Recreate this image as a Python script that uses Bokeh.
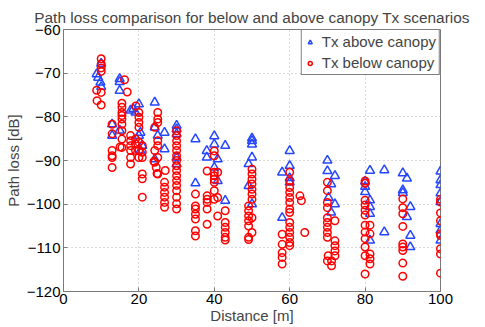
from bokeh.plotting import figure
from bokeh.models import Legend, LegendItem, FixedTicker, ColumnDataSource, Range1d
from bokeh.embed import file_html
from bokeh.resources import INLINE

# ---- data ----
dist_above = [8.8, 9.2, 9.8, 10, 10,
              14.9, 14.9, 14.9, 12.9, 12.9, 14.9,
              17.8, 18.5, 19.1, 20, 20.4, 20.9, 20.4, 20,
              24.2, 24.2, 25, 24.2, 26.8, 26.8,
              30, 30, 30, 30, 30,
              35, 35,
              38, 38, 40, 40, 40, 40.9, 40.9, 42.9, 42.9,
              50, 50, 50, 50, 49.1, 49.1, 50,
              60, 60, 58, 60, 58, 60,
              70, 70, 72, 71, 70.3, 72, 71,
              81.3, 80, 80, 80, 81.3, 81.3, 81.3, 81.3,
              85.1, 85.1,
              90, 91.1, 90, 90, 91.1, 92, 92, 92,
              100, 100, 100, 100, 100, 100, 100, 100]
pl_above = [-70.2, -71.0, -72.1, -73.1, -67.8,
            -71.3, -72.0, -74.0, -81.7, -84.3, -83.1,
            -78.5, -78.2, -79.0, -77.1, -83.6, -86.6, -87.7, -84.3,
            -76.7, -82.4, -84.3, -89.7, -83.6, -87.4,
            -82.0, -82.8, -83.9, -89.3, -90.8,
            -85.1, -95.2,
            -87.8, -89.3, -84.4, -86.3, -91.6, -89.7, -94.7, -86.6, -99.2,
            -84.9, -85.5, -86.3, -89.3, -90.8, -95.8, -100.0,
            -87.8, -91.2, -92.7, -95.0, -103.1, -94.0,
            -90.0, -92.4, -93.5, -95.4, -98.5, -100.0, -101.9,
            -92.3, -94.8, -96.0, -97.2, -99.1, -100.6, -102.2, -108.3,
            -92.2, -106.4,
            -92.9, -94.1, -96.8, -97.4, -102.9, -100.6, -107.2, -109.8,
            -92.5, -94.5, -95.6, -97.5, -99.5, -104.5, -106.0, -108.3]

dist_below = [10, 10, 10, 10, 8.8, 10, 8.9, 10,
              12.9, 12.9, 12.9, 12.9, 12.9, 12.9,
              16.2, 16.9, 15.5, 15.5, 15.5, 15.5, 15.5, 15.5, 15.5, 15.5, 15.5, 15.0,
              19.2, 20, 20, 20, 20, 17.8, 17.8, 17.8, 17.8, 17.8, 17.8,
              19.1, 19.1, 19.1, 20, 20, 20, 20.9, 20.9, 20.9, 20.9, 20.9, 20.9,
              25, 25, 25, 24.2, 25, 25, 24.2, 25, 24.2, 24.6, 25, 24.0, 24.8,
              26.8, 26.8, 26.8, 26.8, 26.8, 26.8, 27.0,
              30, 30, 30, 30, 30, 30, 30, 30, 30, 30, 30, 30, 30, 30, 30, 30,
              35, 35, 35, 35, 35, 35, 35,
              38.1, 38.1, 38.1, 38.1, 38.1, 38.1,
              40, 40, 40, 40, 40, 40, 40, 40, 40.9, 40.9, 40.9,
              42.9, 42.9, 42.9, 42.9, 42.9, 42.9,
              50, 50, 50, 50, 50, 50, 50, 49.1, 49.1, 49.1, 49.1, 50, 49.1, 50, 49.1, 49.1,
              60, 60, 60, 60, 60, 60, 60, 60, 60, 60, 60, 60, 60, 60,
              58, 58, 58, 58, 58, 62.7, 63.1, 64,
              70, 70, 70, 70, 70, 70, 70, 70, 70, 72, 72, 72, 72, 72, 71.1, 70.2, 70, 71.1,
              80, 80, 80, 80, 80, 80, 80, 80, 80, 80, 80, 81.3, 81.3, 81.3, 81.3, 81.3, 80,
              90, 90, 90, 90, 90, 90, 90, 90, 90,
              100, 100, 100, 100, 100, 100, 100, 100, 100]
pl_below = [-66.7, -67.9, -68.8, -69.6, -73.9, -74.4, -76.3, -77.3,
            -81.7, -83.9, -87.7, -88.9, -89.3, -91.6,
            -71.5, -74.3, -76.9, -77.8, -79.0, -79.7, -80.5, -81.7, -83.2, -85.1, -87.0, -86.9,
            -77.5, -79.0, -80.1, -81.3, -82.4, -84.3, -85.5, -86.6, -87.7, -89.3, -90.8,
            -85.1, -86.2, -87.7, -85.8, -87.7, -89.3, -86.6, -88.1, -89.3, -93.1, -94.2, -98.4,
            -79.0, -80.5, -81.3, -82.4, -85.5, -86.6, -87.7, -89.3, -90.4, -91.6, -93.1, -90.2, -93.0,
            -95.0, -96.1, -97.3, -98.4, -99.6, -100.7, -92.3,
            -83.2, -84.3, -85.5, -86.6, -87.7, -88.9, -90.0, -91.2, -92.3, -93.5, -94.6, -95.7,
            -96.9, -98.4, -99.9, -101.1,
            -97.7, -100.4, -101.1, -102.3, -103.4, -106.1, -107.3,
            -92.4, -98.1, -98.9, -99.6, -101.1, -104.6,
            -87.8, -88.9, -92.7, -93.5, -94.3, -95.0, -96.9, -98.9, -92.7, -98.5, -102.7,
            -101.5, -104.2, -105.3, -106.5, -107.6, -108.2,
            -92.0, -93.1, -94.3, -95.4, -96.6, -97.7, -98.9, -100.4, -101.5, -102.7, -103.8,
            -103.1, -105.0, -106.5, -107.6, -108.1,
            -92.7, -94.7, -96.2, -97.3, -98.5, -99.6, -101.1, -101.9, -104.2, -105.3, -106.5,
            -107.6, -108.8, -109.5,
            -106.9, -109.2, -111.1, -112.2, -113.7, -98.1, -99.2, -106.5,
            -95.0, -96.9, -99.6, -100.8, -103.1, -104.2, -105.3, -106.5, -107.6, -103.8, -108.4,
            -109.5, -110.7, -111.8, -113.0, -111.8, -113.0, -114.1,
            -94.7, -95.2, -99.1, -100.2, -101.4, -102.5, -104.8, -106.4, -107.9, -109.8, -111.8,
            -104.8, -106.8, -111.4, -112.5, -113.7, -116.0,
            -98.8, -100.8, -102.2, -105.1, -109.1, -109.8, -110.6, -113.5, -116.5,
            -98.9, -99.5, -102.0, -103.8, -106.8, -107.2, -110.2, -111.4, -115.8]

x_ticks = [0, 20, 40, 60, 80, 100]
y_ticks = [-120, -110, -100, -90, -80, -70, -60]
y_tick_labels = {t: "\u2212" + str(abs(t)) for t in y_ticks}
title_text = "Path loss comparison for below and above canopy Tx scenarios"
x_label = "Distance [m]"
y_label = "Path loss [dB]"
legend_labels = ["Tx above canopy", "Tx below canopy"]

FONT = "Liberation Sans"
AXC = "#7a7a7a"
BLUE = "#2446ff"
RED = "#ff0000"

p = figure(width=485, height=327, output_backend="svg", toolbar_location=None,
           x_range=Range1d(0, 100), y_range=Range1d(-120, -60),
           min_border_left=63, min_border_right=45, min_border_top=29, min_border_bottom=36)

p.title.text = title_text
p.title.align = "center"
p.title.vertical_align = "top"
p.title.text_font = FONT
p.title.text_font_size = "15.4px"
p.title.text_font_style = "normal"
p.title.standoff = 4
p.title.offset = 0

src_a = ColumnDataSource(dict(x=dist_above, y=pl_above))
src_b = ColumnDataSource(dict(x=dist_below, y=pl_below))
ra = p.scatter("x", "y", source=src_a, marker="triangle", size=9, fill_color=None,
               line_color=BLUE, line_width=1.5)
rb = p.scatter("x", "y", source=src_b, marker="circle", size=7.5, fill_color=None,
               line_color=RED, line_width=1.5)

for ax in (p.xaxis[0], p.yaxis[0]):
    ax.axis_line_color = AXC
    ax.major_tick_line_color = AXC
    ax.major_tick_in = 4
    ax.major_tick_out = 0
    ax.minor_tick_line_color = None
    ax.major_label_text_font = FONT
    ax.major_label_text_font_size = "15px"
    ax.major_label_text_color = "black"
    ax.axis_label_text_font = FONT
    ax.axis_label_text_font_size = "15px"
    ax.axis_label_text_font_style = "normal"

p.xaxis.major_label_standoff = 2
p.xaxis.axis_label_standoff = 0
p.yaxis.major_label_standoff = 3
p.yaxis.axis_label_standoff = 2

p.xaxis.ticker = FixedTicker(ticks=x_ticks)
p.yaxis.ticker = FixedTicker(ticks=y_ticks)
p.yaxis.major_label_overrides = y_tick_labels
p.xaxis.axis_label = x_label
p.yaxis.axis_label = y_label

p.outline_line_color = AXC
p.xgrid.ticker = FixedTicker(ticks=x_ticks)
p.ygrid.ticker = FixedTicker(ticks=y_ticks)
p.grid.grid_line_color = "#b4b4b4"
p.grid.grid_line_dash = "1 3"
p.grid.grid_line_width = 1
p.background_fill_color = "white"
p.border_fill_color = "white"

legend = Legend(items=[LegendItem(label=legend_labels[0], renderers=[ra]),
                       LegendItem(label=legend_labels[1], renderers=[rb])],
                location="top_right", margin=0, padding=3, spacing=4,
                glyph_width=10, glyph_height=10, label_standoff=7, label_height=16,
                label_text_font=FONT, label_text_font_size="15px",
                border_line_color="black", border_line_width=1,
                background_fill_color="white", background_fill_alpha=1.0)
p.add_layout(legend)

open("out.html", "w").write(file_html(p, INLINE))
